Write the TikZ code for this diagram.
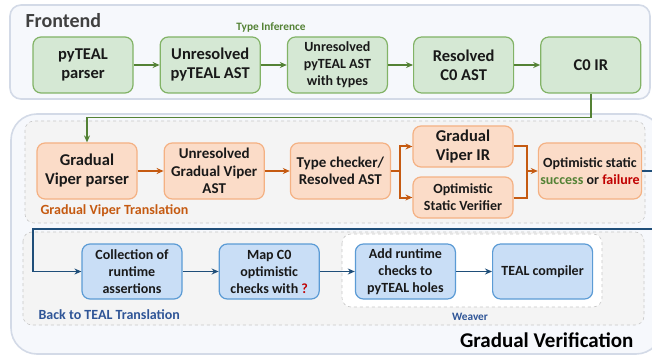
\documentclass[tikz,border=0pt]{standalone}
\usepackage{fontspec}
\setmainfont{Carlito}
\usetikzlibrary{positioning}
\usetikzlibrary{arrows.meta}
\definecolor{grnfill}{HTML}{D5E8D4}
\definecolor{grnline}{HTML}{82B366}
\definecolor{grnarr}{HTML}{548235}
\definecolor{orgfill}{HTML}{FBDCC8}
\definecolor{orgline}{HTML}{F4B183}
\definecolor{orgarr}{HTML}{C55A11}
\definecolor{blufill}{HTML}{C9DEF6}
\definecolor{bluline}{HTML}{5B9BD5}
\definecolor{bluarr}{HTML}{1F4E79}
\definecolor{blutxt}{HTML}{2F5597}
\definecolor{outfill}{HTML}{F6F8FC}
\definecolor{outline}{HTML}{D3DAE7}
\definecolor{grpfill}{HTML}{F4F4F4}
\definecolor{grpline}{HTML}{C8C8C8}
\definecolor{okgreen}{HTML}{548235}
\definecolor{badred}{HTML}{C00000}
\newcommand{\lgtxt}{\fontsize{16.5}{19}\selectfont\bfseries}
\newcommand{\mdtxt}{\fontsize{15}{17.5}\selectfont\bfseries}
\newcommand{\smtxt}{\fontsize{14}{17}\selectfont\bfseries}

\begin{document}
\begin{tikzpicture}[x=1pt,y=-1pt]
\tikzstyle{outer}=[draw=outline,fill=outfill,line width=1.6pt]
\tikzstyle{group}=[draw=grpline,fill=grpfill,dashed,line width=0.6pt,rounded corners=9pt]
\tikzstyle{box}=[rounded corners=8pt,line width=1.2pt,align=center,inner sep=2pt,
  minimum width=100pt,text=black!90,font=\lgtxt]
\tikzstyle{fe}=[box,draw=grnline,fill=grnfill,minimum height=56pt]
\tikzstyle{gv}=[box,draw=orgline,fill=orgfill,minimum height=56pt]
\tikzstyle{gvs}=[box,draw=orgline,fill=orgfill,minimum height=41pt]
\tikzstyle{bt}=[box,draw=bluline,fill=blufill,minimum height=55pt,font=\smtxt]
\tikzstyle{garrow}=[draw=grnarr,line width=1.6pt,-{Stealth[length=7pt,width=6pt]}]
\tikzstyle{oline}=[draw=orgarr,line width=2pt]
\tikzstyle{oarrow}=[oline,-{Stealth[length=7pt,width=6pt]}]
\tikzstyle{barrow}=[draw=bluarr,line width=1.6pt,-{Stealth[length=7pt,width=6pt]}]
\useasboundingbox (0,0) rectangle (652,358);
\clip (0,0) rectangle (652,358);

% frame boxes
\draw[outer,rounded corners=11pt] (10,5) rectangle (650,99);
\draw[outer,rounded corners=26pt] (11,114) rectangle (662,354);
\draw[group] (25,121) rectangle (645,223);
\draw[group] (23,232) rectangle (644,325);
\draw[group,fill=white] (342,234) rectangle (602,307);

\node[anchor=west,text=black!75,font=\fontsize{20}{24}\selectfont\bfseries] (FE) at (22,21) {Frontend};
\node[text=grnarr,font=\fontsize{11.3}{13}\selectfont\bfseries] (TI) at (271,27) {Type Inference};
\node[anchor=west,text=orgarr,font=\fontsize{14}{16}\selectfont\bfseries] (GVT) at (37,211) {Gradual Viper Translation};
\node[anchor=west,text=blutxt,font=\fontsize{14}{16}\selectfont\bfseries] (BTT) at (35,315) {Back to TEAL Translation};
\node[text=blutxt,font=\fontsize{11.3}{13}\selectfont\bfseries] (WV) at (470,317) {Weaver};
\node[anchor=east,text=black,font=\fontsize{21}{25}\selectfont\bfseries] (GV) at (637,340) {Gradual Verification};

% frontend
\node[fe] (PP) at (83,65) {pyTEAL\\parser};
\node[fe,right=26pt of PP] (UPA) {Unresolved\\pyTEAL AST};
\node[fe,right=26pt of UPA,font=\smtxt] (UPT) {Unresolved\\pyTEAL AST\\with types};
\node[fe,right=25pt of UPT] (RCA) {Resolved\\C0 AST};
\node[fe,right=26pt of RCA] (CIR) {C0 IR};

\draw[garrow] (PP) -- (UPA);
\draw[garrow] (UPA) -- (UPT);
\draw[garrow] (UPT) -- (RCA);
\draw[garrow] (RCA) -- (CIR);

% gradual viper
\node[gv] (GVP) at (87,171) {Gradual\\Viper parser};
\node[gv,right=26pt of GVP,font=\mdtxt] (UGV) {Unresolved\\Gradual Viper\\AST};
\node[gv,right=25pt of UGV,font=\mdtxt] (TC) {Type checker/\\Resolved AST};
\node[gvs] (GIR) at (463,146.5) {Gradual\\Viper IR};
\node[gvs,font=\smtxt] (OSV) at (463,197.5) {Optimistic\\Static Verifier};
\node[gv,font=\smtxt] (OST) at (590,171) {Optimistic static\\{\color{okgreen}success} or {\color{badred}failure}};
\coordinate (FORK) at (400,171);
\coordinate (JOIN) at (527,171);

\draw[garrow] (CIR.south) -- ++(0,24) -| (GVP.north);
\draw[oarrow] (GVP) -- (UGV);
\draw[oarrow] (UGV) -- (TC);
\draw[oline] (TC.east) -- (FORK);
\draw[oarrow] (FORK) |- (GIR.west);
\draw[oarrow] (FORK) |- (OSV.west);
\draw[oline] (GIR.east) -| (JOIN);
\draw[oline] (OSV.east) -| (JOIN);
\draw[oarrow] (JOIN) -- (OST);

% back to teal
\node[bt] (COL) at (132,271.5) {Collection of\\runtime\\assertions};
\node[bt,right=36pt of COL] (MAP) {Map C0\\optimistic\\checks with {\color{badred}?}};
\node[bt,right=35pt of MAP] (ADD) {Add runtime\\checks to\\pyTEAL holes};
\node[bt,right=36pt of ADD] (TCO) {TEAL compiler};
\coordinate (R1) at (657,171);
\coordinate (R2) at (33,229);

\draw[barrow] (OST.east) -- (R1) |- (R2) |- (COL.west);
\draw[barrow] (COL) -- (MAP);
\draw[barrow] (MAP) -- (ADD);
\draw[barrow] (ADD) -- (TCO);
\end{tikzpicture}
\end{document}
